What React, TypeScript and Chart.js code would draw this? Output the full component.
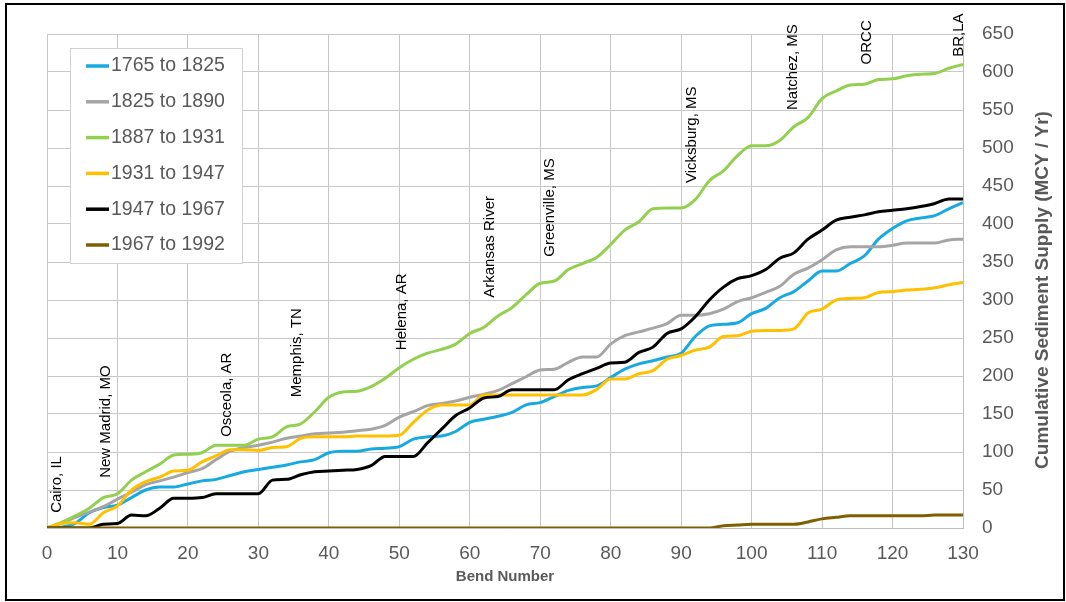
import { useEffect, useRef } from "react";
import { Chart, registerables } from "chart.js";

Chart.register(...registerables);

const FONT = "Arial, 'Liberation Sans', sans-serif";
const TEXT_GRAY = "#595959";

// Bend numbers along the river (x axis)
const bends = [
  0, 2, 4, 6, 8, 10, 12, 14, 16, 18,
  20, 22, 24, 26, 28, 30, 32, 34, 36, 38,
  40, 42, 44, 46, 48, 50, 52, 54, 56, 58,
  60, 62, 64, 66, 68, 70, 72, 74, 76, 78,
  80, 82, 84, 86, 88, 90, 92, 94, 96, 98,
  100, 102, 104, 106, 108, 110, 112, 114, 116, 118,
  120, 122, 124, 126, 128, 130,
];

// Cumulative sediment supply (MCY / Yr) per period
const supply1765to1825 = [
  0, 1, 6, 20, 27, 30, 40, 50, 54, 54,
  58, 62, 64, 69, 74, 77, 80, 83, 87, 90,
  99, 101, 101, 104, 105, 107, 117, 120, 121, 127,
  139, 143, 147, 152, 162, 165, 173, 181, 185, 187,
  198, 209, 216, 220, 225, 230, 252, 266, 268, 270,
  282, 289, 303, 311, 325, 338, 338, 348, 358, 380,
  394, 404, 408, 411, 420, 428,
];
const supply1825to1890 = [
  0, 6, 14, 21, 28, 38, 47, 57, 62, 67,
  73, 78, 90, 101, 106, 109, 113, 118, 121, 124,
  125, 126, 128, 130, 135, 146, 153, 161, 164, 167,
  172, 176, 181, 190, 199, 208, 209, 218, 225, 225,
  242, 253, 258, 263, 269, 280, 280, 282, 288, 298,
  303, 310, 318, 334, 342, 353, 366, 370, 370, 370,
  372, 375, 375, 375, 379, 380,
];
const supply1887to1931 = [
  0, 7, 16, 26, 40, 45, 63, 74, 84, 96,
  97, 99, 109, 109, 109, 117, 120, 133, 137, 153,
  172, 179, 180, 186, 197, 211, 222, 230, 235, 242,
  256, 264, 279, 290, 307, 322, 325, 340, 348, 356,
  373, 392, 403, 420, 421, 421, 432, 457, 470, 490,
  503, 503, 510, 528, 540, 565, 575, 583, 584, 590,
  591, 595, 597, 598, 605, 610,
];
const supply1931to1947 = [
  0, 6, 7, 5, 20, 29, 50, 61, 67, 75,
  76, 87, 95, 103, 103, 102, 106, 107, 118, 120,
  120, 120, 121, 121, 121, 122, 139, 155, 162, 162,
  162, 175, 175, 175, 175, 175, 175, 175, 175, 182,
  196, 196, 203, 207, 222, 227, 234, 238, 252, 253,
  259, 260, 260, 262, 283, 288, 300, 302, 303, 310,
  311, 313, 314, 316, 320, 323,
];
const supply1947to1967 = [
  0, 0, 0, 0, 5, 6, 17, 16, 26, 39,
  39, 40, 45, 45, 45, 45, 63, 64, 70, 74,
  75, 76, 77, 82, 94, 94, 94, 112, 130, 148,
  158, 171, 173, 182, 182, 182, 182, 195, 203, 210,
  217, 218, 231, 238, 256, 262, 278, 300, 317, 328,
  332, 340, 355, 362, 380, 392, 405, 409, 412, 416,
  418, 420, 423, 427, 433, 433,
];
const supply1967to1992 = [
  0, 0, 0, 0, 0, 0, 0, 0, 0, 0,
  0, 0, 0, 0, 0, 0, 0, 0, 0, 0,
  0, 0, 0, 0, 0, 0, 0, 0, 0, 0,
  0, 0, 0, 0, 0, 0, 0, 0, 0, 0,
  0, 0, 0, 0, 0, 0, 0, 0, 3, 4,
  5, 5, 5, 5, 8, 12, 14, 16, 16, 16,
  16, 16, 16, 17, 17, 17,
];

const seriesNames = [
  "1765 to 1825",
  "1825 to 1890",
  "1887 to 1931",
  "1931 to 1947",
  "1947 to 1967",
  "1967 to 1992",
];
const seriesValues = [
  supply1765to1825,
  supply1825to1890,
  supply1887to1931,
  supply1931to1947,
  supply1947to1967,
  supply1967to1992,
];
const seriesColors = ["#17a9e1", "#a5a5a5", "#92d050", "#ffc000", "#000000", "#7f6000"];

// River landmarks: bend position and the supply level where each label starts
const places = [
  "Cairo, IL",
  "New Madrid, MO",
  "Osceola, AR",
  "Memphis, TN",
  "Helena, AR",
  "Arkansas River",
  "Greenville, MS",
  "Vicksburg, MS",
  "Natchez, MS",
  "ORCC",
  "BR,LA",
];
const placeBends = [1.35, 8.4, 25.5, 35.4, 50.3, 62.9, 71.4, 91.5, 105.9, 116.4, 129.4];
const placeLevels = [20, 66, 120, 172, 234, 303, 357, 454, 550, 610, 620];

const overlayPlugin = {
  id: "overlay",
  afterDatasetsDraw(chart: any) {
    const { ctx, chartArea, scales } = chart;
    const xs = scales.x;
    const ys = scales.y;
    ctx.save();

    // landmark labels
    ctx.fillStyle = "#000";
    ctx.font = `15px ${FONT}`;
    ctx.textAlign = "left";
    ctx.textBaseline = "middle";
    places.forEach((name, i) => {
      ctx.save();
      ctx.translate(xs.getPixelForValue(placeBends[i]), ys.getPixelForValue(placeLevels[i]));
      ctx.rotate(-Math.PI / 2);
      ctx.fillText(name, 0, 0);
      ctx.restore();
    });

    // legend box
    const lx = chartArea.left + 23;
    const ly = chartArea.top + 14;
    const lw = 172;
    const lh = 215;
    ctx.fillStyle = "#ffffff";
    ctx.fillRect(lx, ly, lw, lh);
    ctx.strokeStyle = "#d0d0d0";
    ctx.lineWidth = 1;
    ctx.strokeRect(lx + 0.5, ly + 0.5, lw, lh);
    ctx.font = `19.5px ${FONT}`;
    ctx.textAlign = "left";
    ctx.textBaseline = "middle";
    seriesNames.forEach((name, i) => {
      const cy = ly + 18 + i * 35.8;
      ctx.strokeStyle = seriesColors[i];
      ctx.lineWidth = 3.5;
      ctx.beginPath();
      ctx.moveTo(lx + 16, cy);
      ctx.lineTo(lx + 39, cy);
      ctx.stroke();
      ctx.fillStyle = TEXT_GRAY;
      ctx.fillText(name, lx + 41, cy);
    });

    // axis titles
    ctx.fillStyle = TEXT_GRAY;
    ctx.font = `bold 15px ${FONT}`;
    ctx.textAlign = "center";
    ctx.textBaseline = "middle";
    ctx.fillText("Bend Number", (chartArea.left + chartArea.right) / 2, chartArea.bottom + 49);

    ctx.save();
    ctx.translate(chartArea.right + 80, (chartArea.top + chartArea.bottom) / 2 + 9);
    ctx.rotate(-Math.PI / 2);
    ctx.font = `bold 19px ${FONT}`;
    ctx.fillText("Cumulative Sediment Supply (MCY / Yr)", 0, 0);
    ctx.restore();

    ctx.restore();
  },
};

export default function App() {
  const canvasRef = useRef<HTMLCanvasElement | null>(null);

  useEffect(() => {
    if (!canvasRef.current) return;
    const chart = new Chart(canvasRef.current, {
      type: "line",
      data: {
        datasets: seriesNames.map((name, i) => ({
          label: name,
          data: bends.map((b, j) => ({ x: b, y: seriesValues[i][j] })),
          borderColor: seriesColors[i],
          backgroundColor: seriesColors[i],
          borderWidth: 3,
          pointRadius: 0,
          cubicInterpolationMode: "monotone" as const,
          order: seriesNames.length - i,
        })),
      },
      options: {
        responsive: false,
        animation: false,
        layout: { padding: { left: 47, top: 34, right: 0, bottom: 0 } },
        plugins: {
          legend: { display: false },
          tooltip: { enabled: false },
        },
        scales: {
          x: {
            type: "linear",
            min: 0,
            max: 130,
            ticks: {
              stepSize: 10,
              color: TEXT_GRAY,
              font: { size: 19, family: FONT },
              padding: 14,
              maxRotation: 0,
              autoSkip: false,
            },
            grid: { color: "#c8c8c8", drawTicks: false },
            border: { color: "#bdbdbd" },
            afterFit: (s: any) => {
              s.height = 74;
            },
          },
          y: {
            type: "linear",
            position: "right",
            min: 0,
            max: 650,
            ticks: {
              stepSize: 50,
              color: TEXT_GRAY,
              font: { size: 19, family: FONT },
              padding: 19,
            },
            grid: { color: "#c8c8c8", drawTicks: false },
            border: { color: "#bdbdbd" },
            afterFit: (s: any) => {
              s.width = 103;
            },
          },
        },
      },
      plugins: [overlayPlugin],
    });
    return () => chart.destroy();
  }, []);

  return (
    <div
      style={{
        position: "absolute",
        left: 0,
        top: 0,
        width: 1066,
        height: 602,
        background: "#ffffff",
      }}
    >
      <canvas
        ref={canvasRef}
        width={1066}
        height={602}
        style={{ position: "absolute", left: 0, top: 0, width: 1066, height: 602 }}
      />
      <div
        style={{
          position: "absolute",
          left: 5,
          top: 3,
          width: 1056,
          height: 594,
          border: "2px solid #000",
          pointerEvents: "none",
        }}
      />
    </div>
  );
}
